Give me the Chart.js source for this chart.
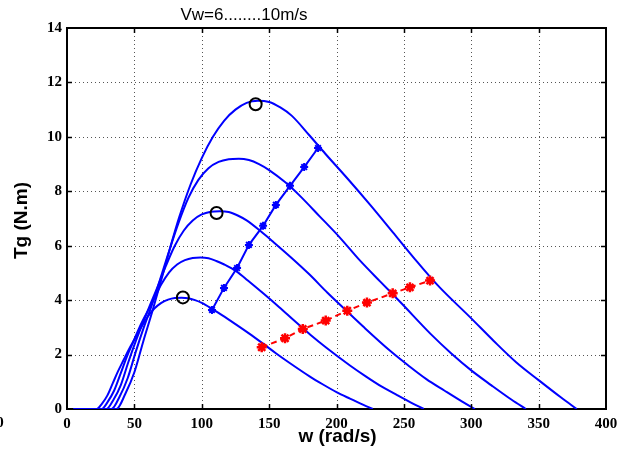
<!DOCTYPE html>
<html>
<head>
<meta charset="utf-8">
<script src="https://cdn.jsdelivr.net/npm/chart.js@4"></script>
<style>
  html, body { margin: 0; padding: 0; background: #fff; }
  #wrap { width: 634px; height: 452px; }
</style>
</head>
<body>
<div id="wrap"><canvas id="c" width="634" height="452"></canvas></div>
<script>
// Generator torque Tg (N.m) against rotor speed w (rad/s), wind speeds 6..10 m/s
const w6  = [5, 22, 26, 30, 34, 38, 42, 46, 50, 55, 60, 65, 70, 75, 80, 85, 90, 95, 100, 108, 115, 125, 135, 145, 155, 165, 180, 190, 200, 210, 220, 227];
const tg6 = [0, 0, 0.2, 0.5, 0.95, 1.4, 1.8, 2.2, 2.55, 3.0, 3.4, 3.7, 3.9, 4.02, 4.08, 4.09, 4.07, 4.0, 3.9, 3.67, 3.45, 3.12, 2.78, 2.42, 2.05, 1.7, 1.2, 0.9, 0.62, 0.38, 0.15, 0];

const w7  = [5, 25.7, 30.3, 35, 39.7, 44.3, 49, 53.7, 58.3, 64.2, 70, 75.8, 81.7, 87.5, 93.3, 99.2, 105, 110.8, 116.7, 126, 134.2, 145.8, 157.5, 169.2, 180.8, 192.5, 210, 221.7, 233.3, 245, 256.7, 264.8];
const tg7 = [0, 0, 0.27, 0.68, 1.29, 1.91, 2.45, 2.99, 3.45, 4.0, 4.58, 5.02, 5.31, 5.47, 5.55, 5.57, 5.54, 5.44, 5.31, 5.05, 4.72, 4.24, 3.74, 3.22, 2.72, 2.25, 1.6, 1.2, 0.83, 0.51, 0.2, 0];

const w8  = [5, 29.3, 34.7, 40, 45.3, 50.7, 56, 61.3, 66.7, 73.3, 80, 86.7, 93.3, 100, 106.7, 113.3, 120, 126.7, 133.3, 144, 153.3, 166.7, 180, 193.3, 206.7, 220, 240, 253.3, 266.7, 280, 293.3, 302.7];
const tg8 = [0, 0, 0.36, 0.89, 1.69, 2.45, 3.12, 3.78, 4.42, 5.25, 6.0, 6.56, 6.93, 7.15, 7.25, 7.27, 7.24, 7.11, 6.93, 6.52, 6.13, 5.55, 4.94, 4.27, 3.64, 3.02, 2.13, 1.6, 1.1, 0.68, 0.27, 0];

const w9  = [5, 33, 39, 45, 51, 57, 63, 69, 75, 82.5, 90, 97.5, 105, 112.5, 120, 127.5, 135, 142.5, 150, 162, 172.5, 187.5, 202.5, 217.5, 232.5, 247.5, 270, 285, 300, 315, 330, 340.5];
const tg9 = [0, 0, 0.45, 1.13, 2.1, 3.0, 3.82, 4.75, 5.68, 6.8, 7.75, 8.42, 8.85, 9.08, 9.18, 9.2, 9.15, 9.0, 8.78, 8.33, 7.85, 7.08, 6.3, 5.45, 4.68, 3.92, 2.75, 2.05, 1.42, 0.87, 0.34, 0];

const w10  = [5, 36.7, 43.3, 50, 56.7, 63.3, 70, 76.7, 83.3, 91.7, 100, 108.3, 116.7, 125, 133.3, 141.7, 150, 158.3, 166.7, 180, 191.7, 208.3, 225, 241.7, 258.3, 275, 300, 316.7, 333.3, 350, 366.7, 378.3];
const tg10 = [0, 0, 0.56, 1.35, 2.5, 3.58, 4.75, 5.95, 7.05, 8.25, 9.22, 10.0, 10.6, 11.0, 11.25, 11.33, 11.28, 11.08, 10.78, 10.05, 9.38, 8.46, 7.5, 6.5, 5.5, 4.55, 3.33, 2.5, 1.72, 1.06, 0.42, 0];

// Maximum-torque points (circles)
const peakW  = [86, 111, 140];
const peakTg = [4.1, 7.2, 11.2];

// Operating line, solid blue with asterisks
const blueW  = [107.6, 116.5, 126.2, 135, 145.5, 155, 165.5, 176, 186.3];
const blueTg = [3.64, 4.45, 5.18, 6.03, 6.73, 7.5, 8.2, 8.89, 9.59];

// Operating line, dashed red with asterisks
const redW  = [144.5, 161.8, 175, 192, 208, 222.6, 241.7, 254.5, 269.4];
const redTg = [2.27, 2.6, 2.94, 3.25, 3.61, 3.91, 4.25, 4.47, 4.72];

// Axis ticks
const xTicks = [0, 50, 100, 150, 200, 250, 300, 350, 400];
const yTicks = [0, 2, 4, 6, 8, 10, 12, 14];

const pts = (xs, ys) => xs.map((x, i) => ({ x: x, y: ys[i] }));

const curve = (xs, ys) => ({
  data: pts(xs, ys),
  borderColor: '#0000ff',
  borderWidth: 2,
  pointRadius: 0,
  fill: false,
  cubicInterpolationMode: 'monotone',
  order: 3
});

const datasets = [
  curve(w6, tg6), curve(w7, tg7), curve(w8, tg8), curve(w9, tg9), curve(w10, tg10),
  {
    data: pts(blueW, blueTg),
    borderColor: '#0000ff', borderWidth: 2, tension: 0,
    pointStyle: 'star', pointRadius: 4, pointBorderWidth: 2,
    pointBorderColor: '#0000ff', pointBackgroundColor: '#0000ff',
    order: 2
  },
  {
    data: pts(redW, redTg),
    borderColor: '#ff0000', borderWidth: 2, borderDash: [6, 4], tension: 0,
    pointStyle: 'star', pointRadius: 5, pointBorderWidth: 2.5,
    pointBorderColor: '#ff0000', pointBackgroundColor: '#ff0000',
    order: 1
  },
  {
    data: pts(peakW, peakTg),
    showLine: false,
    pointStyle: 'circle', pointRadius: 6, pointBorderWidth: 2,
    pointBorderColor: '#000', pointBackgroundColor: 'rgba(0,0,0,0)',
    order: 0
  }
];

const tickFont = { family: 'Liberation Serif', weight: 'bold', size: 15 };

// Dotted grid and box frame under the curves; inward ticks and text labels on top
const framePlugin = {
  id: 'frame',
  beforeDatasetsDraw(chart) {
    const { ctx, chartArea: a, scales: { x, y } } = chart;
    ctx.save();
    ctx.strokeStyle = '#555';
    ctx.lineWidth = 1;
    ctx.setLineDash([1, 3]);
    xTicks.slice(1, -1).forEach(v => {
      const px = Math.round(x.getPixelForValue(v)) + 0.5;
      ctx.beginPath(); ctx.moveTo(px, a.top); ctx.lineTo(px, a.bottom); ctx.stroke();
    });
    yTicks.slice(1, -1).forEach(v => {
      const py = Math.round(y.getPixelForValue(v)) + 0.5;
      ctx.beginPath(); ctx.moveTo(a.left, py); ctx.lineTo(a.right, py); ctx.stroke();
    });
    ctx.setLineDash([]);
    ctx.strokeStyle = '#000';
    ctx.lineWidth = 2;
    ctx.strokeRect(a.left, a.top, a.right - a.left, a.bottom - a.top);
    ctx.restore();
  },
  afterDraw(chart) {
    const { ctx, chartArea: a, scales: { x, y } } = chart;
    ctx.save();
    ctx.strokeStyle = '#000';
    ctx.lineWidth = 1.5;
    const tl = 5;
    xTicks.slice(1, -1).forEach(v => {
      const px = Math.round(x.getPixelForValue(v)) + 0.5;
      ctx.beginPath();
      ctx.moveTo(px, a.bottom); ctx.lineTo(px, a.bottom - tl);
      ctx.moveTo(px, a.top); ctx.lineTo(px, a.top + tl);
      ctx.stroke();
    });
    yTicks.slice(1, -1).forEach(v => {
      const py = Math.round(y.getPixelForValue(v)) + 0.5;
      ctx.beginPath();
      ctx.moveTo(a.left, py); ctx.lineTo(a.left + tl, py);
      ctx.moveTo(a.right, py); ctx.lineTo(a.right - tl, py);
      ctx.stroke();
    });

    ctx.fillStyle = '#000';
    ctx.textAlign = 'center';
    ctx.textBaseline = 'middle';
    ctx.font = '17px "Liberation Sans"';
    ctx.fillText('Vw=6........10m/s', a.left + 177, 15);
    ctx.font = 'bold 19px "Liberation Sans"';
    ctx.fillText('w (rad/s)', (a.left + a.right) / 2 + 1, 437);
    ctx.save();
    ctx.translate(22, (a.top + a.bottom) / 2 + 2);
    ctx.rotate(-Math.PI / 2);
    ctx.fillText('Tg (N.m)', 0, 0);
    ctx.restore();

    ctx.font = 'bold 15px "Liberation Serif"';
    ctx.fillText('0', 0, 423);
    ctx.restore();
  }
};

new Chart(document.getElementById('c'), {
  type: 'line',
  data: { datasets },
  options: {
    responsive: false,
    animation: false,
    devicePixelRatio: 1,
    layout: { padding: { top: 28, right: 28, left: 0, bottom: 0 } },
    plugins: { legend: { display: false }, tooltip: { enabled: false } },
    scales: {
      x: {
        type: 'linear', min: 0, max: 400,
        afterFit(s) { s.height = 43; },
        afterBuildTicks(s) { s.ticks = xTicks.map(v => ({ value: v })); },
        ticks: { color: '#000', font: tickFont, padding: 6, maxRotation: 0 },
        grid: { display: false, drawTicks: false },
        border: { display: false }
      },
      y: {
        type: 'linear', min: 0, max: 14,
        afterFit(s) { s.width = 67; },
        afterBuildTicks(s) { s.ticks = yTicks.map(v => ({ value: v })); },
        ticks: { color: '#000', font: tickFont, padding: 5 },
        grid: { display: false, drawTicks: false },
        border: { display: false }
      }
    }
  },
  plugins: [framePlugin]
});
</script>
</body>
</html>
